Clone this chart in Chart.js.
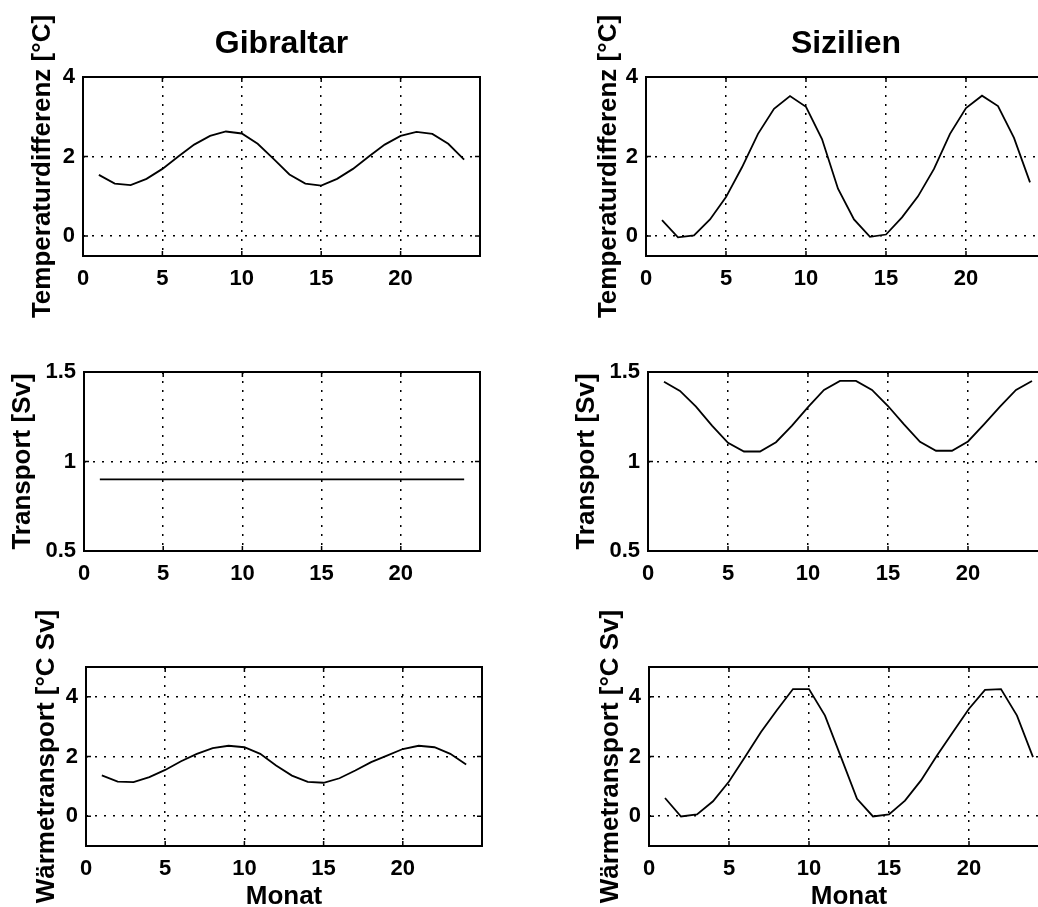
<!DOCTYPE html>
<html>
<head>
<meta charset="utf-8">
<script src="https://cdn.jsdelivr.net/npm/chart.js@4"></script>
<style>
html, body { margin:0; padding:0; background:#fff; }
body { width:1038px; height:907px; overflow:hidden; position:relative; }
canvas { position:absolute; }
</style>
</head>
<body>
<canvas id="gibTemp"></canvas>
<canvas id="sizTemp"></canvas>
<canvas id="gibTrans"></canvas>
<canvas id="sizTrans"></canvas>
<canvas id="gibHeat"></canvas>
<canvas id="sizHeat"></canvas>
<script>
// months 1..24
const months = [1,2,3,4,5,6,7,8,9,10,11,12,13,14,15,16,17,18,19,20,21,22,23,24];
const xTicks = [0,5,10,15,20];

// Temperaturdifferenz [°C]
const gibTempVals = [1.54,1.32,1.28,1.44,1.69,2.00,2.30,2.52,2.63,2.58,2.32,1.94,1.55,1.32,1.27,1.44,1.69,2.00,2.30,2.52,2.62,2.57,2.32,1.92];
const sizTempVals = [0.40,-0.03,0.02,0.42,0.98,1.73,2.57,3.20,3.52,3.25,2.44,1.19,0.42,-0.02,0.04,0.47,1.00,1.69,2.57,3.22,3.53,3.27,2.47,1.35];
const tempTicks = [0,2,4];

// Transport [Sv]
const gibTransVals = [0.9,0.9,0.9,0.9,0.9,0.9,0.9,0.9,0.9,0.9,0.9,0.9,0.9,0.9,0.9,0.9,0.9,0.9,0.9,0.9,0.9,0.9,0.9,0.9];
const sizTransVals = [1.446,1.394,1.306,1.200,1.104,1.056,1.056,1.108,1.200,1.304,1.400,1.450,1.450,1.400,1.310,1.207,1.110,1.060,1.060,1.112,1.207,1.306,1.400,1.450];
const transTicks = [0.5,1,1.5];

// Wärmetransport [°C Sv]
const gibHeatVals = [1.37,1.16,1.14,1.31,1.55,1.84,2.09,2.28,2.36,2.31,2.09,1.70,1.36,1.15,1.12,1.27,1.53,1.81,2.03,2.25,2.36,2.31,2.09,1.73];
const sizHeatVals = [0.61,-0.01,0.06,0.50,1.16,1.98,2.82,3.56,4.26,4.26,3.37,1.98,0.58,-0.01,0.06,0.52,1.20,2.03,2.82,3.60,4.23,4.26,3.37,1.98];
const heatTicks = [0,2,4];

const FONT = '"Liberation Sans", Arial, Helvetica, sans-serif';

// box frame round the plot area, with short inward ticks like matlab
const framePlugin = {
  id: 'frame',
  afterDatasetsDraw(chart) {
    const a = chart.chartArea, ctx = chart.ctx;
    const xs = chart.scales.x, ys = chart.scales.y;
    const tl = 5;
    ctx.save();
    ctx.strokeStyle = '#000';
    ctx.lineWidth = 1.5;
    ctx.beginPath();
    xs.ticks.forEach(t => {
      const px = xs.getPixelForValue(t.value);
      ctx.moveTo(px, a.bottom); ctx.lineTo(px, a.bottom - tl);
      ctx.moveTo(px, a.top); ctx.lineTo(px, a.top + tl);
    });
    ys.ticks.forEach(t => {
      const py = ys.getPixelForValue(t.value);
      ctx.moveTo(a.left, py); ctx.lineTo(a.left + tl, py);
      ctx.moveTo(a.right, py); ctx.lineTo(a.right - tl, py);
    });
    ctx.stroke();
    ctx.lineWidth = 2;
    ctx.strokeRect(a.left, a.top, a.right - a.left, a.bottom - a.top);
    ctx.restore();
  }
};

function panel(id, box, plot, vals, yMin, yMax, yTicks, yTitle, yTitlePad, title, xTitle) {
  const cv = document.getElementById(id);
  cv.width = box.w; cv.height = box.h;
  cv.style.left = box.x + 'px'; cv.style.top = box.y + 'px';
  const yW = plot.l - box.x;
  const xH = box.y + box.h - plot.b;
  const titleH = plot.t - box.y;
  new Chart(cv, {
    type: 'line',
    data: { datasets: [{
      data: months.map((m, i) => ({x: m, y: vals[i]})),
      borderColor: '#000', borderWidth: 1.8, pointRadius: 0, tension: 0, fill: false
    }]},
    options: {
      responsive: false, animation: false,
      layout: { padding: { left: 0, top: title ? 0 : titleH, right: box.x + box.w - plot.r, bottom: 0 } },
      plugins: {
        legend: { display: false }, tooltip: { enabled: false },
        title: title ? {
          display: true, text: title, color: '#000', fullSize: false,
          font: { family: FONT, size: 32, weight: 'bold', lineHeight: 1 },
          padding: { top: 28, bottom: titleH - 28 - 32 }
        } : { display: false }
      },
      scales: {
        x: {
          type: 'linear', min: 0, max: 25,
          afterBuildTicks: s => { s.ticks = xTicks.map(v => ({value: v})); },
          afterFit: s => { s.height = xH; },
          grid: { color: '#000', lineWidth: 1.5, drawTicks: false },
          border: { display: false, dash: [2, 7] },
          ticks: { color: '#000', padding: 12, maxRotation: 0, autoSkip: false,
                   font: { family: FONT, size: 22, weight: 'bold', lineHeight: 1 } },
          title: xTitle ? { display: true, text: xTitle, color: '#000', padding: { top: 0, bottom: 10 },
                   font: { family: FONT, size: 26, weight: 'bold', lineHeight: 1 } } : { display: false }
        },
        y: {
          type: 'linear', min: yMin, max: yMax,
          afterBuildTicks: s => { s.ticks = yTicks.map(v => ({value: v})); },
          afterFit: s => { s.width = yW; },
          grid: { color: '#000', lineWidth: 1.5, drawTicks: false },
          border: { display: false, dash: [2, 7] },
          ticks: { color: '#000', padding: 8, callback: v => String(v),
                   font: { family: FONT, size: 22, weight: 'bold', lineHeight: 1 } },
          title: { display: true, text: yTitle, color: '#000', padding: { top: yTitlePad, bottom: 0 },
                   font: { family: FONT, size: 26, weight: 'bold', lineHeight: 1 } }
        }
      }
    },
    plugins: [framePlugin]
  });
}

const L = 0, R = 520;
panel('gibTemp',  {x:L, y:0,   w:520, h:330}, {l:83,  r:480,  t:77,  b:256}, gibTempVals,  -0.5, 4,   tempTicks,  'Temperaturdifferenz [°C]', 30, 'Gibraltar', null);
panel('sizTemp',  {x:R, y:0,   w:540, h:330}, {l:646, r:1046, t:77,  b:256}, sizTempVals,  -0.5, 4,   tempTicks,  'Temperaturdifferenz [°C]', 76, 'Sizilien', null);
panel('gibTrans', {x:L, y:300, w:520, h:300}, {l:84,  r:480,  t:372, b:551}, gibTransVals, 0.5,  1.5, transTicks, 'Transport [Sv]', 10, null, null);
panel('sizTrans', {x:R, y:300, w:540, h:300}, {l:648, r:1048, t:372, b:551}, sizTransVals, 0.5,  1.5, transTicks, 'Transport [Sv]', 54, null, null);
panel('gibHeat',  {x:L, y:590, w:520, h:330}, {l:86,  r:482,  t:667, b:846}, gibHeatVals,  -1,   5,   heatTicks,  'Wärmetransport [°C Sv]', 34, null, 'Monat');
panel('sizHeat',  {x:R, y:590, w:540, h:330}, {l:649, r:1049, t:667, b:846}, sizHeatVals,  -1,   5,   heatTicks,  'Wärmetransport [°C Sv]', 78, null, 'Monat');
</script>
</body>
</html>
